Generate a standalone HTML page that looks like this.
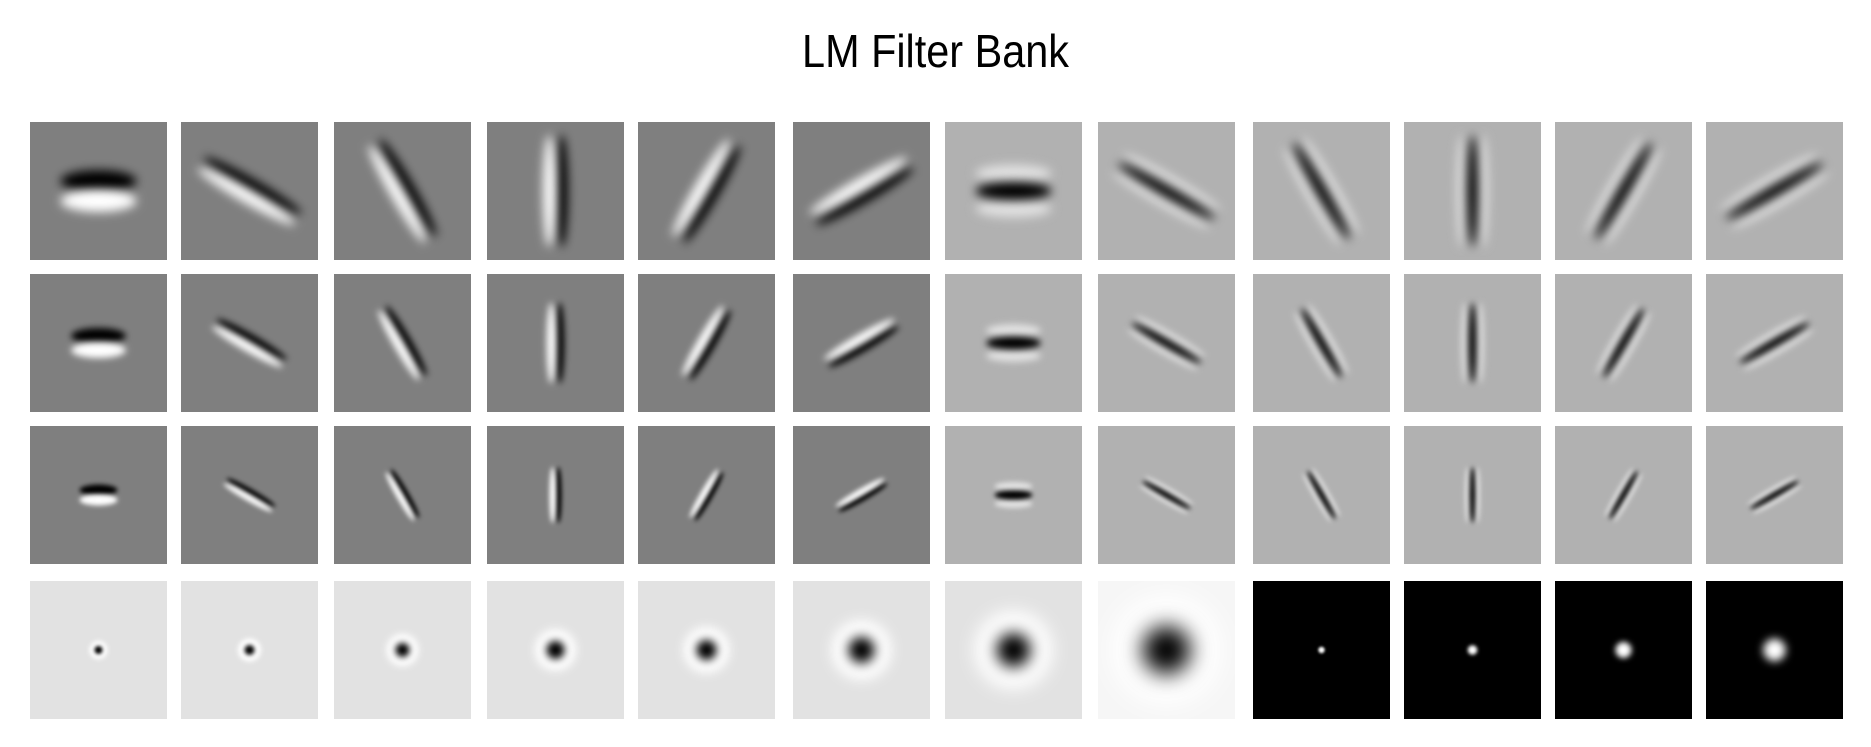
<!DOCTYPE html>
<html><head><meta charset="utf-8"><style>
html,body{margin:0;padding:0;background:#fff;width:1871px;height:747px;overflow:hidden}
#title{position:absolute;left:0;width:1871px;top:24px;text-align:center;font-family:"Liberation Sans",sans-serif;font-size:46px;color:#000;transform:scaleX(0.9)}
svg{position:absolute;left:0;top:0}
</style></head><body>
<div id="title">LM Filter Bank</div>
<svg id="bank" width="1871" height="747">
<defs>
<filter id="b1" x="-100%" y="-100%" width="300%" height="300%"><feGaussianBlur stdDeviation="5"/></filter>
<filter id="b2" x="-100%" y="-100%" width="300%" height="300%"><feGaussianBlur stdDeviation="3.5"/></filter>
<filter id="b3" x="-100%" y="-100%" width="300%" height="300%"><feGaussianBlur stdDeviation="2.5"/></filter>
</defs>
</svg>
<script>
const orientations=[0,30,60,90,120,150];
const scales=[1,0.72,0.5];
const logSizes=[4,5,7,9,10,13,17,24];
const gaussSizes=[2,3,5,7];
const colX=[30,181,334,487,638,793,945,1098,1253,1404,1555,1706];
const rowY=[122,274,426,581];
const W=137,H=138;
const NS='http://www.w3.org/2000/svg';
const svg=document.getElementById('bank');
const defs=svg.querySelector('defs');
function mk(t,a,p){const e=document.createElementNS(NS,t);for(const k in a)e.setAttribute(k,a[k]);(p||svg).appendChild(e);return e;}
let fc=0;
function blur(sd){const id='f'+(fc++);const f=mk('filter',{id:id,x:'-200%',y:'-200%',width:'500%',height:'500%'},defs);mk('feGaussianBlur',{stdDeviation:sd},f);return 'url(#'+id+')';}
for(let r=0;r<3;r++){
  for(let c=0;c<12;c++){
    const x=colX[c],y=rowY[r];
    const g=mk('g',{});
    
    
    const bg=c<6?'#7f7f7f':'#b1b1b1';
    mk('rect',{x:x,y:y,width:W,height:H,fill:bg},g);
    const cx=x+W/2,cy=y+H/2,s=scales[r];
    const ang=orientations[c%6];
    const fid=['b1','b2','b3'][r];
    const inner=mk('g',{transform:`translate(${cx},${cy}) rotate(${ang})`},g);
    const L=(c%6==0?38:56)*s, T=(c%6==0?11:6.5)*s;
    if(c<6){
      mk('ellipse',{cx:0,cy:-T*0.9,rx:L,ry:T,fill:'#000',filter:'url(#'+fid+')'},inner);
      mk('ellipse',{cx:0,cy:T*0.9,rx:L,ry:T,fill:'#fff',filter:'url(#'+fid+')'},inner);
    }else{
      mk('ellipse',{cx:0,cy:-T*1.6,rx:L,ry:T*0.8,fill:'#e0e0e0',filter:'url(#'+fid+')'},inner);
      mk('ellipse',{cx:0,cy:T*1.6,rx:L,ry:T*0.8,fill:'#e0e0e0',filter:'url(#'+fid+')'},inner);
      mk('ellipse',{cx:0,cy:0,rx:L,ry:T*0.8,fill:'#000',filter:'url(#'+fid+')'},inner);
    }
  }
}
for(let c=0;c<12;c++){
  const x=colX[c],y=rowY[3];
  const g=mk('g',{});
  
  
  const cx=x+W/2,cy=y+H/2;
  if(c<8){
    mk('rect',{x:x,y:y,width:W,height:H,fill:c==7?'#f6f6f6':'#e2e2e2'},g);
    const s=logSizes[c];
    mk('circle',{cx:cx,cy:cy,r:s*2.3,fill:'#fff',filter:blur(s*0.5)},g);
    mk('circle',{cx:cx,cy:cy,r:s,fill:'#000',filter:blur(s*0.45)},g);
  }else{
    mk('rect',{x:x,y:y,width:W,height:H,fill:'#000'},g);
    const s=gaussSizes[c-8];
    mk('circle',{cx:cx,cy:cy,r:s*1.6,fill:'#fff',filter:blur(s*0.6)},g);
  }
}
</script>
</body></html>
